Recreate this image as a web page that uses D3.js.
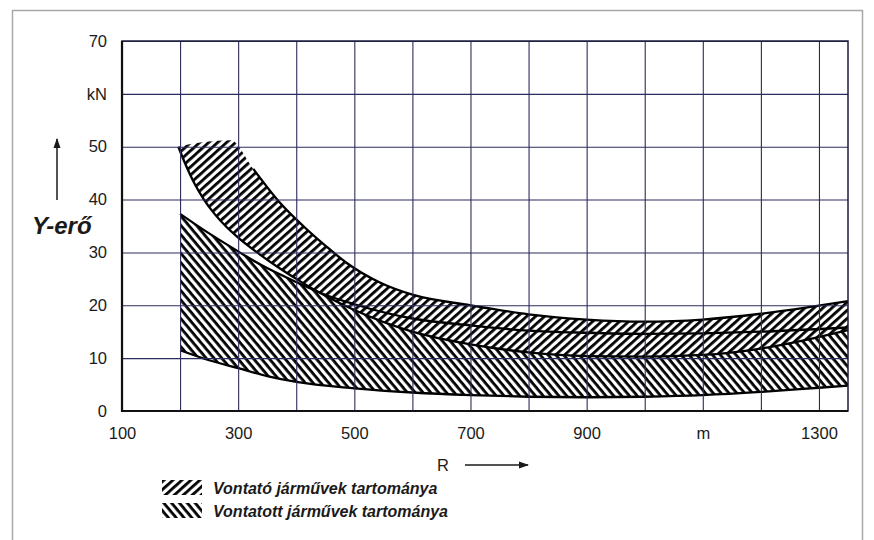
<!DOCTYPE html>
<html>
<head>
<meta charset="utf-8">
<script src="https://cdn.jsdelivr.net/npm/d3@7/dist/d3.min.js"></script>
<style>
	body { margin: 0; background: #fff; }
	text { font-family: "Liberation Sans", Arial, sans-serif; fill: #1a1a1a; }
</style>
</head>
<body>
<div id="chart"></div>
<script>

///////////////////////////////////////////////////////////////////////////
//////////////////////////////// The data /////////////////////////////////
///////////////////////////////////////////////////////////////////////////

//Grid and tick labels
var xGridValues = [100, 200, 300, 400, 500, 600, 700, 800, 900, 1000, 1100, 1200, 1300];
var xLabelValues = [100, 300, 500, 700, 900, 1100, 1300];
var xLabelTexts = ["100", "300", "500", "700", "900", "m", "1300"];
var yGridValues = [0, 10, 20, 30, 40, 50, 60, 70];
var yLabelTexts = ["0", "10", "20", "30", "40", "50", "kN", "70"];

//Vontató járművek (towing vehicles) - top edge, upper and lower curve [R, Y]
var vontatoTop = [[197, 50], [240, 50.9], [287, 51.2]];
var vontatoUpper = [[326, 45.8], [372, 39.4], [412, 35], [450, 31.3], [487, 28], [544, 24.3], [600, 22],
	[700, 20], [800, 18.3], [900, 17.3], [1000, 16.9], [1100, 17.3], [1200, 18.4], [1280, 19.6], [1350, 20.8]];
var vontatoLower = [[197, 50], [210, 46.5], [225, 43], [240, 40.2], [260, 37.2], [280, 34.8], [300, 32.8],
	[340, 29.4], [370, 27.1], [400, 25], [450, 21.8], [500, 19.1], [600, 15], [700, 12.6], [800, 11.1],
	[900, 10.4], [1000, 10.3], [1100, 10.6], [1200, 11.8], [1280, 13.5], [1350, 15.3]];

//Vontatott járművek (towed vehicles)
var vontatottUpper = [[200, 37.3], [250, 33.6], [300, 30.2], [340, 27.6], [400, 24.4], [450, 22], [500, 20.2],
	[600, 17.5], [700, 16.2], [800, 15.2], [900, 14.8], [1000, 14.6], [1100, 14.7], [1200, 15], [1350, 15.8]];
var vontatottLower = [[200, 11.5], [250, 9.6], [300, 8.1], [350, 6.6], [400, 5.5], [500, 4.3], [600, 3.5],
	[700, 3], [800, 2.7], [900, 2.6], [1000, 2.7], [1100, 3], [1200, 3.6], [1300, 4.4], [1350, 4.8]];

var legendLabels = ["Vontató járművek tartománya", "Vontatott járművek tartománya"];

///////////////////////////////////////////////////////////////////////////
//////////////////// Set up and initiate svg container ////////////////////
///////////////////////////////////////////////////////////////////////////

var W = 874, H = 540;
var margin = { top: 41, right: 26, bottom: 129, left: 122 };
var width = W - margin.left - margin.right;
var height = H - margin.top - margin.bottom;

var svgRoot = d3.select("#chart").append("svg")
	.attr("width", W)
	.attr("height", H);

//Light grey frame round the figure
svgRoot.append("path")
	.attr("d", "M12.5," + H + "V10.5H862.5V" + H)
	.style("fill", "none")
	.style("stroke", "#a8a8a8")
	.style("stroke-width", 1.5);

var svg = svgRoot.append("g")
	.attr("transform", "translate(" + margin.left + "," + margin.top + ")");

var x = d3.scaleLinear().domain([100, 1350]).range([0, width]);
var y = d3.scaleLinear().domain([0, 70]).range([height, 0]);

///////////////////////////////////////////////////////////////////////////
////////////////////////////// Hatch patterns /////////////////////////////
///////////////////////////////////////////////////////////////////////////

var defs = svgRoot.append("defs");

function hatch(id, angle, bg) {
	var p = defs.append("pattern")
		.attr("id", id)
		.attr("patternUnits", "userSpaceOnUse")
		.attr("width", 6)
		.attr("height", 6)
		.attr("patternTransform", "rotate(" + angle + ")");
	if (bg) p.append("rect").attr("width", 6).attr("height", 6).style("fill", bg);
	p.append("rect").attr("y", 0).attr("width", 6).attr("height", 2.8).style("fill", "#000");
}
hatch("hatch-vontato", -42, "#fff");
hatch("hatch-vontatott", 50, null);

defs.append("clipPath").attr("id", "plot-clip")
	.append("rect").attr("width", width).attr("height", height);

defs.append("marker")
	.attr("id", "arrow")
	.attr("viewBox", "0 0 10 10")
	.attr("refX", 9).attr("refY", 5)
	.attr("markerWidth", 7).attr("markerHeight", 7)
	.attr("orient", "auto")
	.append("path")
	.attr("d", "M0,1.5L10,5L0,8.5Z")
	.style("fill", "#1a1a1a");

///////////////////////////////////////////////////////////////////////////
///////////////////////////////// Bands ///////////////////////////////////
///////////////////////////////////////////////////////////////////////////

//Closed band from an upper and a lower curve
function bandPath(upper, lower) {
	var p = d3.path();
	var c = d3.curveMonotoneX(p);
	c.areaStart();
	c.lineStart();
	upper.forEach(function(d) { c.point(x(d[0]), y(d[1])); });
	c.lineEnd();
	c.lineStart();
	lower.slice().reverse().forEach(function(d) { c.point(x(d[0]), y(d[1])); });
	c.lineEnd();
	c.areaEnd();
	return p.toString();
}

var line = d3.line()
	.x(function(d) { return x(d[0]); })
	.y(function(d) { return y(d[1]); })
	.curve(d3.curveMonotoneX);

var plot = svg.append("g").attr("clip-path", "url(#plot-clip)");

plot.append("path")
	.attr("d", bandPath(vontatottUpper, vontatottLower))
	.style("fill", "url(#hatch-vontatott)");

plot.append("path")
	.attr("d", bandPath(vontatoTop.concat(vontatoUpper), vontatoLower))
	.style("fill", "url(#hatch-vontato)");

///////////////////////////////////////////////////////////////////////////
////////////////////////////////// Grid ///////////////////////////////////
///////////////////////////////////////////////////////////////////////////

svg.append("g")
	.attr("class", "x grid")
	.attr("transform", "translate(0," + height + ")")
	.call(d3.axisBottom(x).tickValues(xGridValues).tickSize(-height).tickFormat(""))
	.call(function(g) { g.select(".domain").remove(); });

svg.append("g")
	.attr("class", "y grid")
	.call(d3.axisLeft(y).tickValues(yGridValues).tickSize(-width).tickFormat(""))
	.call(function(g) { g.select(".domain").remove(); });

svg.selectAll(".grid line")
	.style("stroke", "#2c2c5c")
	.style("stroke-width", 1.1);

//Curve outlines
[vontatoUpper, vontatoLower, vontatottUpper, vontatottLower].forEach(function(c) {
	plot.append("path")
		.attr("d", line(c))
		.style("fill", "none")
		.style("stroke", "#000")
		.style("stroke-width", 2.3);
});

//Plot frame
svg.append("rect")
	.attr("width", width)
	.attr("height", height)
	.style("fill", "none")
	.style("stroke", "#1c1c3c")
	.style("stroke-width", 1.5);
svg.append("path")
	.attr("d", "M0,0V" + height + "H" + width)
	.style("fill", "none")
	.style("stroke", "#111")
	.style("stroke-width", 2.2);

///////////////////////////////////////////////////////////////////////////
////////////////////////////// Axis labels ////////////////////////////////
///////////////////////////////////////////////////////////////////////////

svg.append("g")
	.attr("transform", "translate(0," + height + ")")
	.call(d3.axisBottom(x).tickValues(xLabelValues).tickSize(0).tickPadding(16)
		.tickFormat(function(d, i) { return xLabelTexts[i]; }))
	.call(function(g) {
		g.select(".domain").remove();
		g.selectAll("text").style("font-size", "16.5px").style("fill", "#1a1a1a")
			.style("font-family", "'Liberation Sans', Arial, sans-serif");
	});

svg.append("g")
	.call(d3.axisLeft(y).tickValues(yGridValues).tickSize(0).tickPadding(15)
		.tickFormat(function(d, i) { return yLabelTexts[i]; }))
	.call(function(g) {
		g.select(".domain").remove();
		g.selectAll("text").style("font-size", "16.5px").style("fill", "#1a1a1a")
			.style("font-family", "'Liberation Sans', Arial, sans-serif");
	});

//Y title with arrow
svgRoot.append("line")
	.attr("x1", 57).attr("y1", 200).attr("x2", 57).attr("y2", 139)
	.style("stroke", "#1a1a1a")
	.style("stroke-width", 1.5)
	.attr("marker-end", "url(#arrow)");

svgRoot.append("text")
	.attr("x", 32).attr("y", 234)
	.style("font-size", "24px")
	.style("font-weight", "bold")
	.style("font-style", "italic")
	.text("Y-erő");

//X title with arrow
svgRoot.append("text")
	.attr("x", 443).attr("y", 471)
	.attr("text-anchor", "middle")
	.style("font-size", "16.5px")
	.text("R");

svgRoot.append("line")
	.attr("x1", 465).attr("y1", 465).attr("x2", 528).attr("y2", 465)
	.style("stroke", "#1a1a1a")
	.style("stroke-width", 1.5)
	.attr("marker-end", "url(#arrow)");

///////////////////////////////////////////////////////////////////////////
///////////////////////////////// Legend //////////////////////////////////
///////////////////////////////////////////////////////////////////////////

var legend = svgRoot.append("g").attr("transform", "translate(162,480)");
var legendFills = ["url(#hatch-vontato)", "url(#hatch-vontatott)"];

legend.selectAll(".swatch")
	.data(legendLabels)
	.enter().append("rect")
	.attr("class", "swatch")
	.attr("x", 0)
	.attr("y", function(d, i) { return i * 23; })
	.attr("width", 40)
	.attr("height", 15)
	.style("fill", function(d, i) { return legendFills[i]; });

legend.selectAll(".label")
	.data(legendLabels)
	.enter().append("text")
	.attr("class", "label")
	.attr("x", 51)
	.attr("y", function(d, i) { return 14 + i * 23; })
	.style("font-size", "16px")
	.style("font-weight", "bold")
	.style("font-style", "italic")
	.text(function(d) { return d; });

</script>
</body>
</html>
